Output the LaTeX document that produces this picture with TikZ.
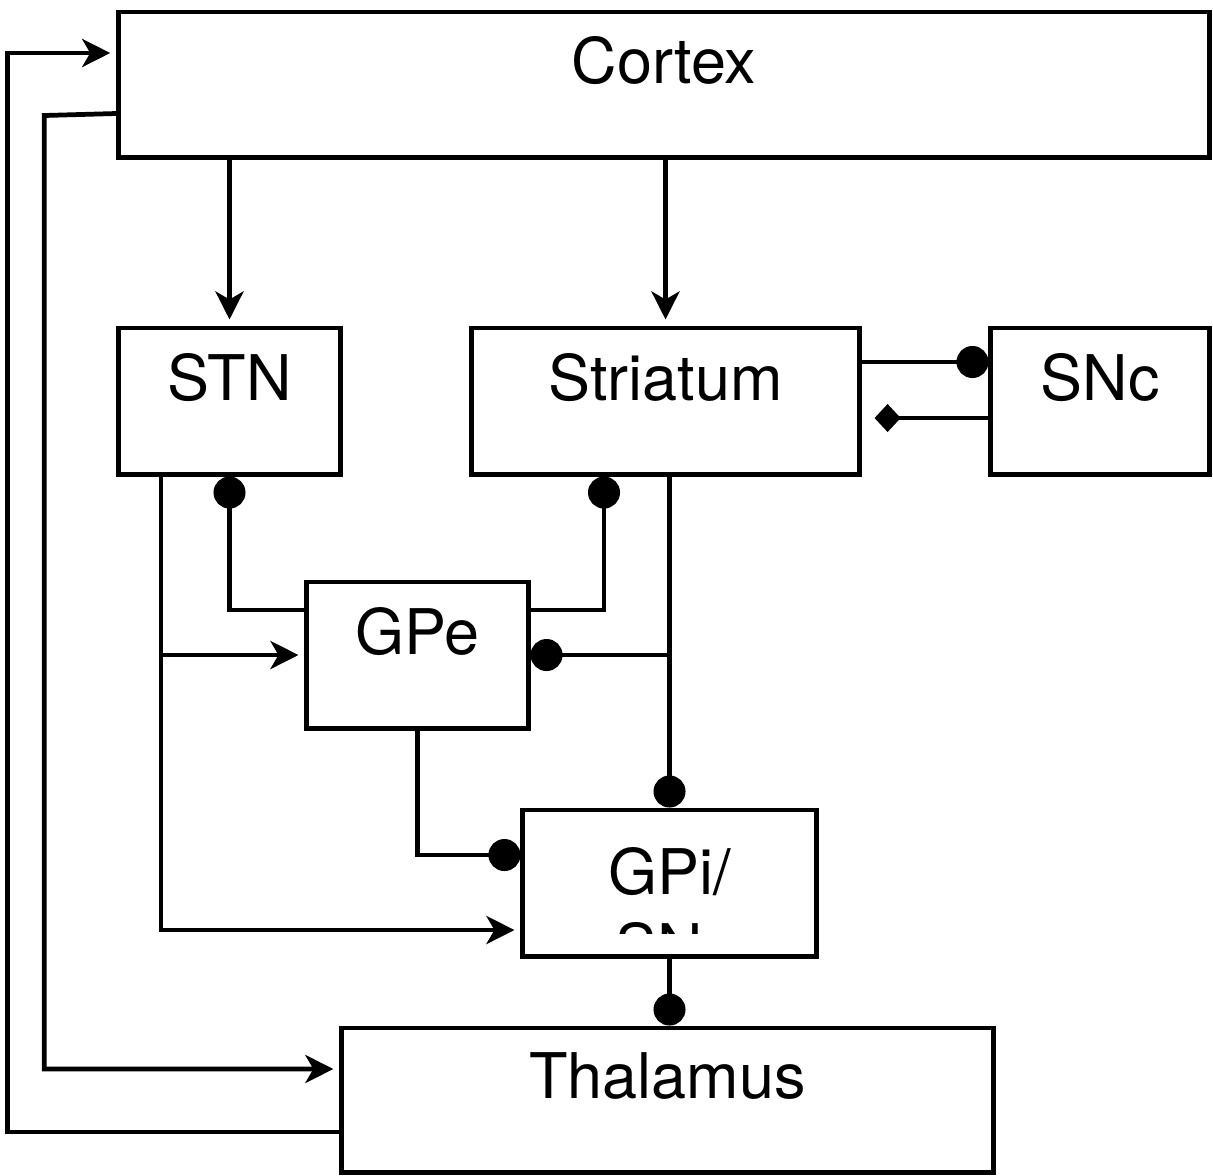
\documentclass[tikz,border=0pt]{standalone}
\usepackage{fontspec}
\setmainfont{TeX Gyre Heros}
\usetikzlibrary{positioning,arrows.meta,calc}

\begin{document}
\begin{tikzpicture}[
    x=0.01cm, y=-0.01cm,
    line width=1.35pt,
    area/.style={draw, rectangle, inner sep=0pt, line width=1.4pt},
    txt/.style={anchor=base, inner sep=0pt, font=\fontsize{17.9}{21.5}\selectfont},
    excit/.style={-{Stealth[length=0.28cm, width=0.28cm, inset=0.08cm]}, shorten >=0.06cm},
    inhib/.style={-{Circle[length=0.32cm]}},
    modul/.style={-{Diamond[length=0.26cm, width=0.28cm]}, shorten >=0.13cm}
]
\useasboundingbox (0,0) rectangle (1213,1175);

% Cortex
\node[area, minimum width=10.9cm, minimum height=1.45cm] (cortex) at (664,84.5) {};
\node[txt] (cortextxt) at ($(cortex.north)+(0,74)$) {Cortex};

% STN
\node[area, minimum width=2.21cm, minimum height=1.46cm] (stn) at (229.5,401) {};
\node[txt] (stntxt) at ($(stn.north)+(0,75)$) {STN};

% Striatum
\node[area, minimum width=3.87cm, minimum height=1.46cm] (striatum) at (665.5,401) {};
\node[txt] (striatumtxt) at ($(striatum.north)+(0,75)$) {Striatum};

% SNc
\node[area, minimum width=2.18cm, minimum height=1.46cm] (snc) at (1100,401) {};
\node[txt] (snctxt) at ($(snc.north)+(0,75)$) {SNc};

% GPe
\node[area, minimum width=2.21cm, minimum height=1.46cm] (gpe) at (417.5,655) {};
\node[txt] (gpetxt) at ($(gpe.north)+(0,75)$) {GPe};

% GPi/SNr
\node[area, minimum width=2.93cm, minimum height=1.46cm] (gpi) at (669.5,883) {};
\node[txt] (gpitxt) at ($(gpi.north)+(0,87)$) {GPi/};
\begin{scope}
\clip (gpi.north west) rectangle ($(gpi.south east)+(0,-25)$);
\node[txt] (gpitxtb) at ($(gpi.north)+(0,162)$) {SNr};
\end{scope}

% Thalamus
\node[area, minimum width=6.51cm, minimum height=1.44cm] (thalamus) at (667.5,1100) {};
\node[txt] (thalamustxt) at ($(thalamus.north)+(0,73)$) {Thalamus};

% Loop back to cortex
\draw[excit] ($(thalamus.west)+(0,32)$) -- ++(-332,0) |- ($(cortex.west)+(0,-31.5)$);
\draw[excit] ($(cortex.west)+(0,29)$) -- ++(-72,2) |- ($(thalamus.west)+(0,-31)$);

% Cortical input
\draw[excit] (stn.north |- cortex.south) -- (stn.north);
\draw[excit] (striatum.north |- cortex.south) -- (striatum.north);

% Striatum and SNc
\draw[inhib] ($(striatum.east)+(0,-39)$) -- ($(snc.west)+(0,-39)$);
\draw[modul] ($(snc.west)+(0,17)$) -- ($(striatum.east)+(0,17)$);

% STN output
\coordinate (stnleg) at ($(stn.south)+(-68.5,0)$);
\draw[excit] (stnleg) |- ($(gpi.west)+(0,47)$);
\draw[excit] (stnleg |- gpe.west) -- (gpe.west);

% GPe output
\draw[inhib] ($(gpe.west)+(0,-45)$) -| (stn.south);
\draw[inhib] ($(gpe.east)+(0,-45)$) -| ($(striatum.south)+(-61.5,0)$);
\draw[inhib] (gpe.south) |- ($(gpi.west)+(0,-28)$);

% Striatum output
\draw[inhib] (gpi.north |- striatum.south) -- (gpi.north);
\draw[inhib] (gpi.north |- gpe.east) -- (gpe.east);

% GPi output
\draw[inhib] (gpi.south) -- (gpi.south |- thalamus.north);

\end{tikzpicture}
\end{document}
